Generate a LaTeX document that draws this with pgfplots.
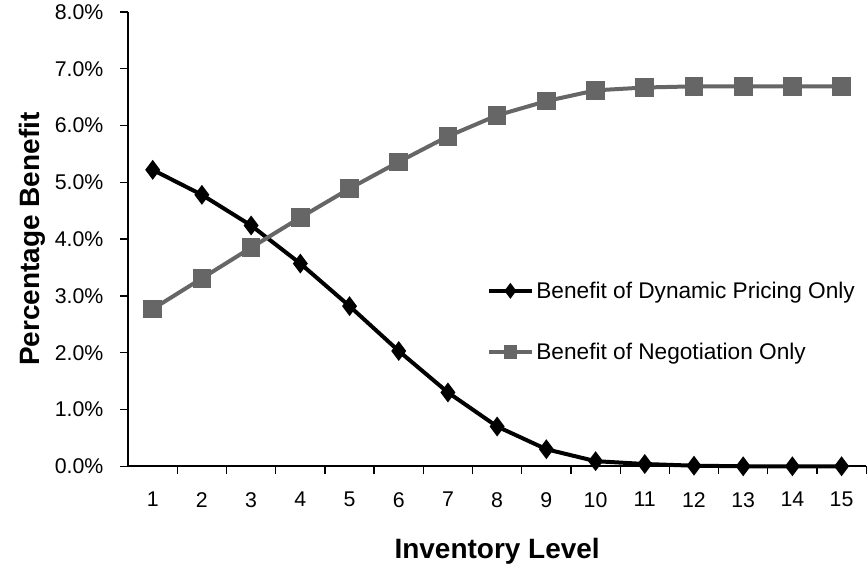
\documentclass[border=0pt]{standalone}
\usepackage{pgfplots}
\pgfplotsset{compat=1.18}
\usepackage{fontspec}
\setmainfont{Liberation Sans}
\definecolor{neggray}{HTML}{666666}
\begin{document}
\begin{tikzpicture}
\begin{axis}[
    scale only axis,
    width=554pt, height=341pt,
    xmin=0.5, xmax=15.5,
    ymin=0, ymax=8,
    axis lines*=left,
    axis line style={line width=1.2pt},
    clip=false,
    xtick={1,...,15},
    major x tick style={draw=none},
    minor xtick={1.5,2.5,...,15.5},
    minor tick length=6pt,
    ytick={0,1,...,8},
    major tick length=6pt,
    tick align=outside,
    tick style={black, line width=1pt},
    yticklabel={\pgfmathprintnumber[fixed,fixed zerofill,precision=1]{\tick}\%},
    /pgf/number format/assume math mode=true,
    ticklabel style={font=\fontsize{16}{18}\selectfont},
    xticklabel style={yshift=-10pt},
    yticklabel style={xshift=-9pt},
    xlabel={Inventory Level},
    ylabel={Percentage Benefit},
    label style={font=\bfseries\fontsize{21}{24}\selectfont},
    xlabel style={at={(axis description cs:0.5,0)}, anchor=base, yshift=-69.5pt, inner ysep=0pt},
    ylabel style={at={(axis description cs:0,0.5)}, anchor=south, yshift=47.7pt, inner ysep=14.3pt},
    legend style={at={(0.486,0.319)}, anchor=west, draw=none, fill=none, inner sep=0pt,
        font=\fontsize{17}{20}\selectfont, row sep=28pt},
    legend cell align=left,
    legend image code/.code={
        \draw[mark repeat=2, mark phase=2, mark size=3.5pt, #1]
            plot coordinates {(0pt,0pt) (16pt,0pt) (32pt,0pt)};},
]
\addplot[black, line width=3pt, mark=diamond*, mark size=5pt,
    mark options={solid, fill=black}] coordinates {
    (1,5.22) (2,4.78) (3,4.24) (4,3.57) (5,2.82) (6,2.03) (7,1.30) (8,0.70)
    (9,0.30) (10,0.09) (11,0.04) (12,0.01) (13,0.0) (14,0.0) (15,0.0)};
\addlegendentry{Benefit of Dynamic Pricing Only}
\addplot[neggray, line width=3pt, mark=square*, mark size=5.5pt,
    mark options={solid, fill=neggray}] coordinates {
    (1,2.77) (2,3.31) (3,3.85) (4,4.38) (5,4.89) (6,5.36) (7,5.81) (8,6.18)
    (9,6.43) (10,6.62) (11,6.67) (12,6.69) (13,6.69) (14,6.69) (15,6.69)};
\addlegendentry{Benefit of Negotiation Only}
\end{axis}
\end{tikzpicture}
\end{document}
